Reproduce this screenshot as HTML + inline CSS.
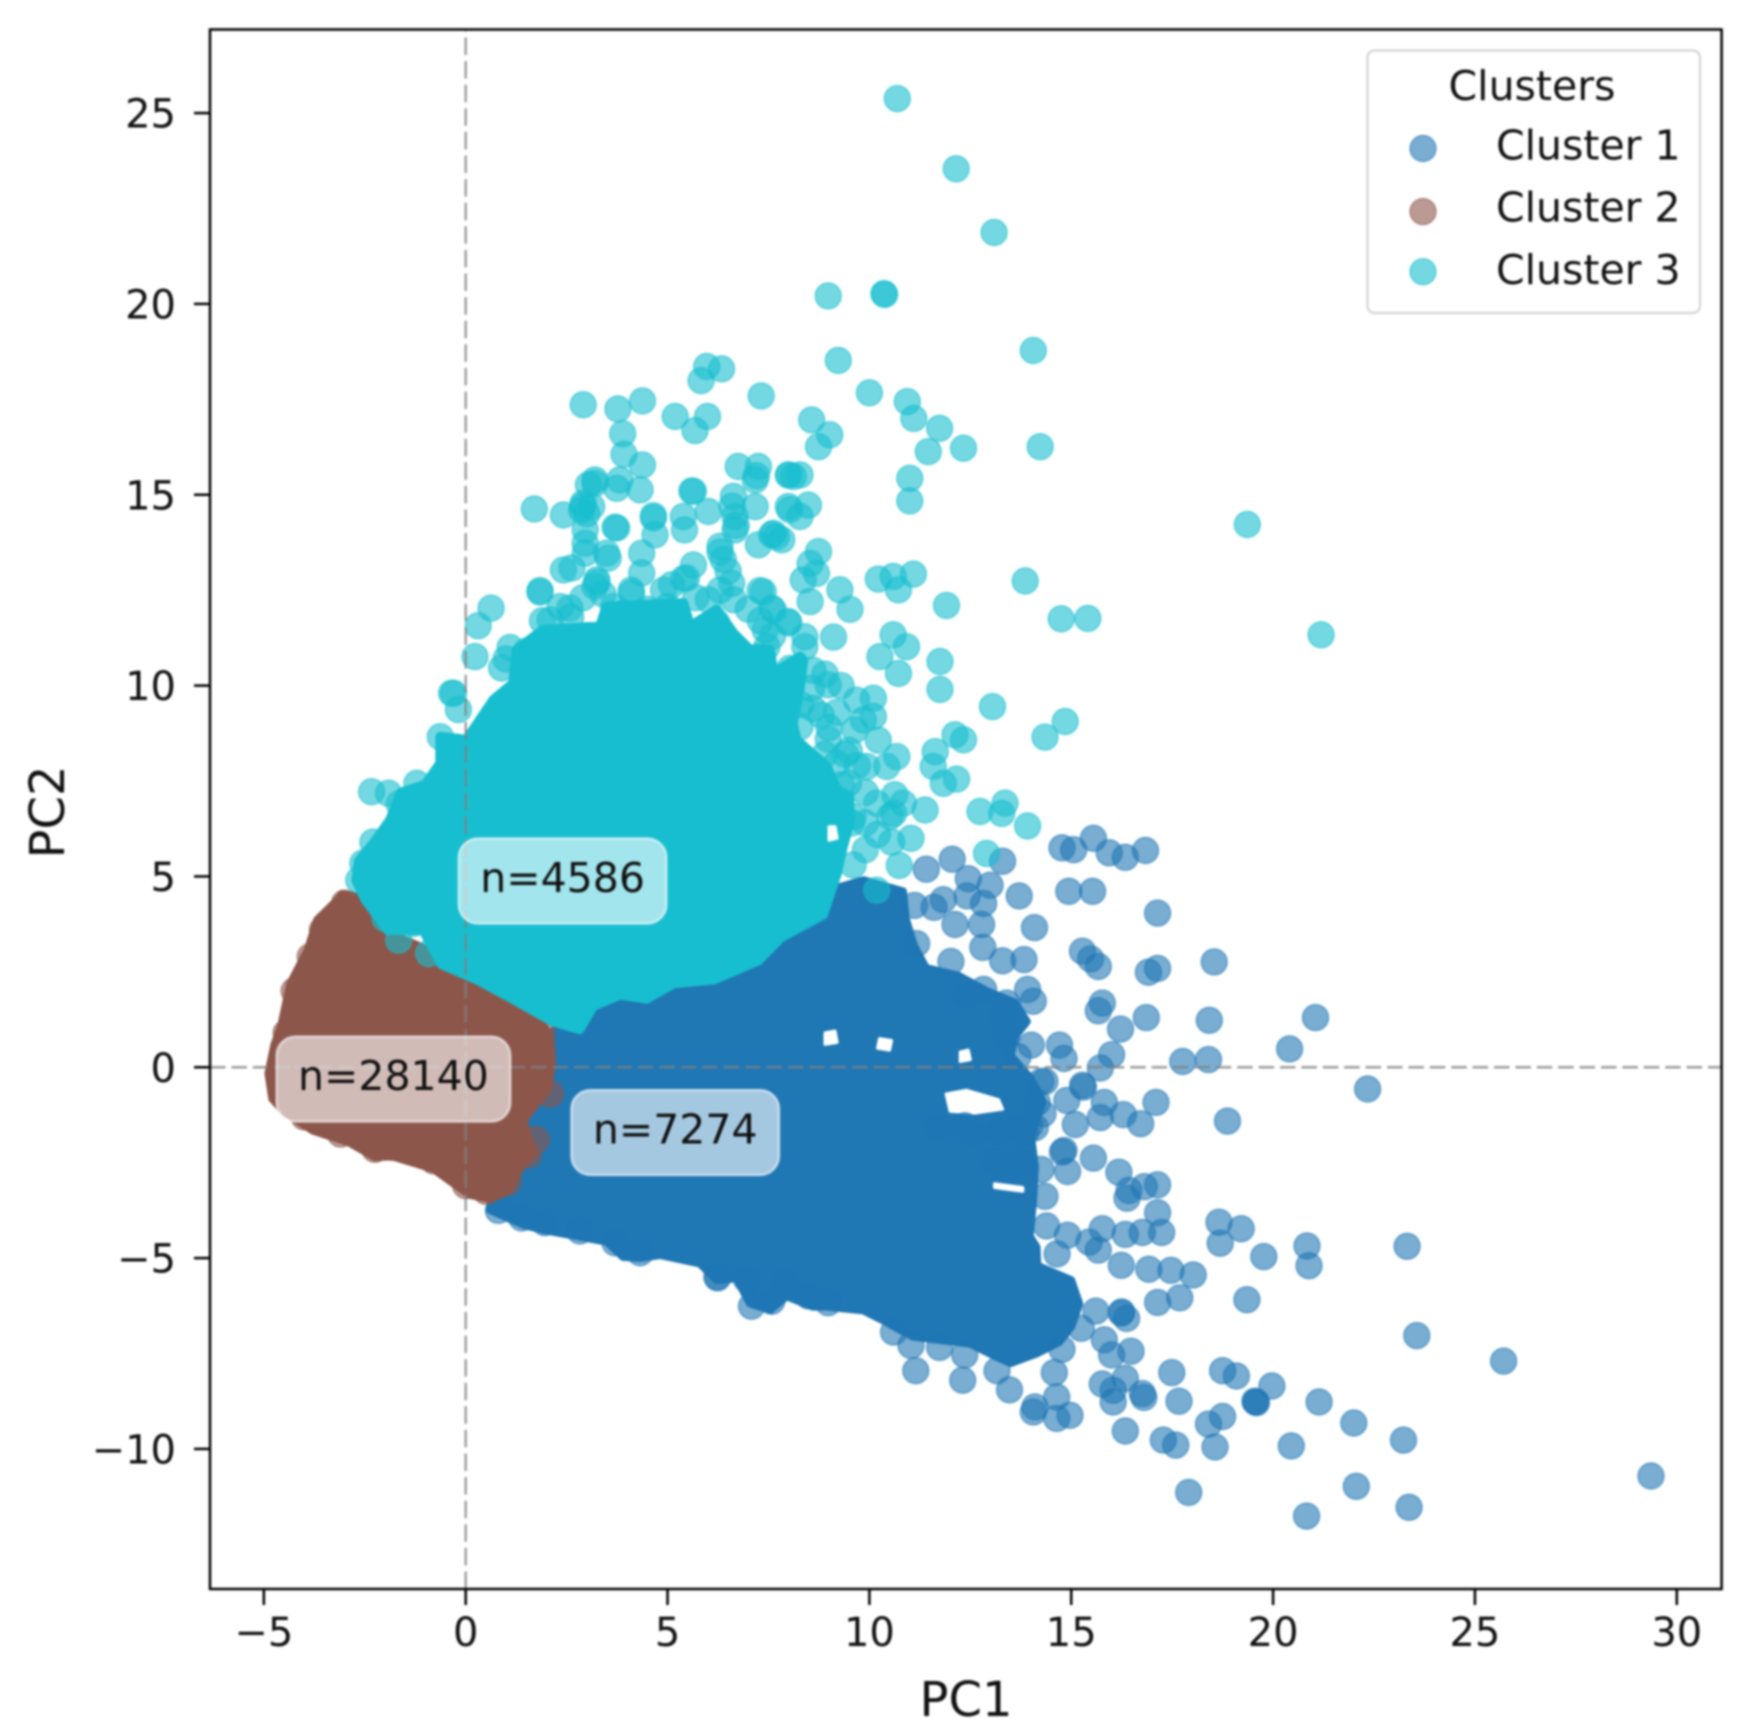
<!DOCTYPE html>
<html lang="en">
<head>
<meta charset="utf-8">
<title>PCA clusters</title>
<style>
html,body{margin:0;padding:0;background:#fff;width:1746px;height:1735px;overflow:hidden}
svg{display:block;filter:blur(1px)}
text{font-family:"DejaVu Sans","Liberation Sans",sans-serif;fill:#111}
</style>
</head>
<body>
<svg id="chart" xmlns="http://www.w3.org/2000/svg" width="1746" height="1735" viewBox="0 0 1746 1735">
  <defs><clipPath id="plot-clip"><rect x="210" y="29.5" width="1511.6" height="1559.5"/></clipPath></defs>
  <rect width="1746" height="1735" fill="#fff"/>
  <g id="marks" clip-path="url(#plot-clip)"></g>
  <g id="refs" clip-path="url(#plot-clip)"></g>
  <g id="annots"></g>
  <g id="ticks"></g>
  <rect x="210" y="29.5" width="1511.6" height="1559.5" fill="none" stroke="#000" stroke-width="2.5"/>
  <text x="966" y="1716" font-size="48" text-anchor="middle">PC1</text>
  <text x="64" y="812" font-size="48" text-anchor="middle" transform="rotate(-90 64 812)">PC2</text>
  <g>
    <rect x="1367.5" y="50.5" width="332.5" height="262.5" rx="7" fill="#fff" fill-opacity="0.8" stroke="#d4d4d4" stroke-width="2.2"/>
    <text x="1532" y="100" font-size="41" text-anchor="middle">Clusters</text>
    <g>
      <circle cx="1423" cy="148.5" r="13" fill="#1f77b4" fill-opacity="0.6" stroke="#1f77b4" stroke-opacity="0.6" stroke-width="1.4"/>
      <text x="1496" y="159.3" font-size="41">Cluster 1</text>
    </g>
    <g>
      <circle cx="1423" cy="211.6" r="13" fill="#8c564b" fill-opacity="0.6" stroke="#8c564b" stroke-opacity="0.6" stroke-width="1.4"/>
      <text x="1496" y="221.7" font-size="41">Cluster 2</text>
    </g>
    <g>
      <circle cx="1423" cy="271.7" r="13" fill="#17becf" fill-opacity="0.6" stroke="#17becf" stroke-opacity="0.6" stroke-width="1.4"/>
      <text x="1496" y="284" font-size="41">Cluster 3</text>
    </g>
  </g>
</svg>
<script>
const xTickValues = [-5, 0, 5, 10, 15, 20, 25, 30];
const xTickLabels = ["\u22125", "0", "5", "10", "15", "20", "25", "30"];
const yTickValues = [-10, -5, 0, 5, 10, 15, 20, 25];
const yTickLabels = ["\u221210", "\u22125", "0", "5", "10", "15", "20", "25"];
const annotationLabels = ["n=7274", "n=28140", "n=4586"];
const annotationX = [5.19, -1.79, 2.4];
const annotationY = [-1.71, -0.31, 4.88];

// Over-plotted regions where individual points cannot be told apart: outlines read in data units.
const cluster1Dense = [[0.6,-3.74],[1.43,-4.13],[1.96,-4.27],[2.83,-4.44],[3.49,-4.57],[3.9,-4.97],[4.32,-5.0],[4.81,-4.92],[5.8,-5.14],[6.22,-5.58],[6.71,-5.53],[7.04,-6.19],[7.54,-6.36],[7.95,-6.0],[8.6,-6.27],[8.94,-6.27],[9.85,-6.37],[10.34,-6.63],[11.08,-7.06],[12.49,-7.24],[13.15,-7.59],[13.5,-7.75],[14.14,-7.5],[14.7,-7.2],[15.0,-6.8],[15.2,-6.2],[15.0,-5.58],[14.16,-5.2],[14.14,-4.71],[13.97,-4.43],[14.06,-3.43],[14.1,-2.6],[14.0,-1.8],[14.3,-0.9],[14.0,-0.3],[13.5,0.3],[13.6,0.8],[13.9,1.2],[13.6,1.7],[12.9,2.0],[12.2,2.4],[11.4,2.6],[11.1,3.2],[10.9,3.9],[10.83,4.61],[9.86,4.9],[8.9,4.61],[7.79,4.03],[6.41,2.86],[5.58,2.28],[4.48,2.0],[3.09,1.69],[2.18,0.96],[1.0,-1.5]];
const cluster2Dense = [[-3.1,4.6],[-2.71,4.55],[-1.93,3.6],[-1.05,3.2],[0.06,2.5],[1.16,1.8],[1.94,1.2],[2.16,0.8],[2.2,0.1],[2.1,-0.6],[1.5,-1.4],[1.75,-2.3],[1.45,-2.6],[1.1,-3.3],[0.61,-3.52],[0.06,-3.4],[-0.83,-2.72],[-1.82,-2.4],[-2.27,-2.42],[-2.93,-2.02],[-3.81,-1.72],[-4.52,-1.24],[-4.85,-0.85],[-4.95,-0.16],[-4.8,0.6],[-4.63,1.1],[-4.41,2.2],[-3.97,3.1],[-3.73,3.9],[-3.2,4.45]];
const cluster3Dense = [[-2.65,5.4],[-2.28,5.87],[-1.87,6.48],[-1.6,7.2],[-1.0,7.4],[-0.63,7.96],[-0.63,8.66],[0.02,8.58],[0.69,9.63],[1.18,10.06],[1.26,10.94],[1.92,11.46],[3.33,11.55],[3.49,12.07],[5.39,12.16],[5.56,11.55],[6.22,11.99],[6.63,11.37],[7.04,10.94],[7.54,10.94],[7.62,10.33],[8.28,10.76],[8.36,10.67],[8.28,9.97],[8.1,9.0],[8.2,8.57],[8.94,7.88],[9.19,7.27],[9.5,7.1],[9.52,6.48],[9.3,5.6],[9.2,5.1],[8.85,4.0],[7.8,3.4],[7.25,2.8],[6.14,2.3],[5.15,2.2],[4.48,1.8],[3.82,1.9],[3.15,1.6],[2.82,1.0],[2.16,1.2],[1.16,1.8],[0.28,2.3],[-0.6,2.7],[-1.05,3.6],[-1.93,3.6],[-2.49,4.4],[-2.71,4.9]];

// Uncovered pockets inside the over-plotted regions: outlines read in data units.
const cluster1Holes = [
[[8.9,0.6],[9.2,0.65],[9.15,0.95],[8.9,0.9]],
[[10.2,0.5],[10.5,0.45],[10.55,0.7],[10.25,0.75]],
[[12.25,0.15],[12.5,0.2],[12.45,0.45],[12.25,0.4]],
[[11.9,-0.7],[12.4,-0.6],[13.2,-0.85],[13.3,-1.1],[12.6,-1.2],[12.0,-1.15]],
[[13.1,-3.05],[13.8,-3.15],[13.8,-3.25],[13.1,-3.15]]
];
const cluster3Holes = [
[[9.0,5.95],[9.2,6.0],[9.15,6.3],[9.0,6.3]]
];

const cluster1Points = [
[13.3,5.4],[12.05,5.45],[11.41,5.19],[12.45,4.94],[12.99,4.77],[13.71,4.49],[14.94,4.61],[15.53,4.61],[17.14,4.04],[14.09,3.66],[12.78,3.74],[12.12,3.74],[12.83,4.29],[11.83,4.39],[11.6,4.19],[11.12,4.24],[12.42,4.49],
[14.77,5.75],[15.06,5.7],[15.55,6.0],[15.94,5.62],[16.34,5.5],[16.84,5.68],
[12.81,3.14],[13.3,2.79],[13.83,2.82],[11.17,3.24],[12.02,2.77],[15.28,3.04],[15.48,2.84],[15.67,2.64],[16.91,2.49],[17.14,2.59],[18.54,2.76],
[15.77,1.68],[15.67,1.48],[16.86,1.3],[18.42,1.23],[21.05,1.3],[13.92,2.04],[14.06,1.73],[12.83,2.04],[12.4,1.88],[13.4,1.68],[16.22,1.0],[20.41,0.48],
[14.01,0.58],[14.71,0.58],[14.82,0.23],[16.0,0.33],[15.72,-0.02],[17.76,0.15],[18.4,0.2],[14.25,-0.37],[15.28,-0.47],[15.3,-0.52],[22.34,-0.57],[14.89,-0.87],[15.82,-0.92],[17.1,-0.92],[16.29,-1.24],[15.1,-1.5],[15.72,-1.32],[16.72,-1.48],[18.87,-1.41],
[14.3,-1.22],[14.11,-1.58],[14.16,-0.92],[13.87,-1.72],[13.21,-1.7],[13.59,-1.6],[13.97,-1.53],[12.55,-1.73],[12.36,-1.53],[11.69,-1.58],[13.68,0.28],[14.35,-0.37],[13.4,0.78],[13.3,1.28],
[14.82,-2.18],[14.78,-2.22],[15.55,-2.38],[14.91,-2.73],[13.11,-2.48],[13.73,-2.48],[14.25,-2.68],[13.45,-2.68],[16.18,-2.75],[17.14,-3.08],[16.43,-3.23],[16.38,-3.43],[16.81,-3.13],[17.14,-3.81],[14.35,-3.38],
[18.66,-4.06],[19.21,-4.23],[18.69,-4.61],[19.77,-4.96],[20.84,-4.68],[20.89,-5.2],[17.24,-4.33],[16.76,-4.33],[16.34,-4.38],[15.77,-4.23],[14.39,-4.16],[14.91,-4.4],[15.44,-4.58],[14.65,-4.89],[15.67,-4.79],[16.24,-5.19],[16.92,-5.29],[17.47,-5.32],[18.02,-5.44],[17.14,-6.16],[17.69,-6.04],[19.35,-6.09],[16.25,-6.41],[16.37,-6.58],[16.24,-6.44],
[15.61,-6.39],[15.25,-6.84],[14.77,-7.39],[15.82,-7.14],[16.48,-7.44],[16.0,-7.54],[11.15,-7.95],[12.31,-8.2],[12.36,-7.54],[11.03,-7.29],[10.6,-6.94],[11.74,-7.34],[14.58,-8.0],[13.16,-7.95],[13.47,-8.45],
[17.49,-8.0],[18.75,-7.95],[19.09,-8.09],[19.97,-8.35],[15.77,-8.3],[16.34,-8.15],[16.76,-8.55],[16.8,-8.65],[14.06,-9.03],[14.1,-8.9],[14.64,-8.64],[14.64,-9.2],[14.97,-9.12],[16.04,-8.46],[16.04,-8.77],[16.34,-9.53],[17.28,-9.77],[17.59,-9.9],[17.91,-11.14],[17.67,-8.75],[18.4,-9.35],[18.75,-9.15],[18.56,-9.95],
[19.57,-8.77],[19.59,-8.79],[19.55,-8.75],[21.14,-8.77],[22.0,-9.32],[20.45,-9.92],[23.23,-9.77],[22.06,-10.98],[20.83,-11.76],[23.37,-11.53],[29.36,-10.71],[23.32,-4.69],[23.56,-7.03],[25.71,-7.7],
[0.81,-3.75],[1.39,-3.95],[1.96,-4.07],[2.83,-4.29],[3.7,-4.6],[4.32,-4.86],[6.22,-5.49],[6.24,-5.52],[7.08,-6.26],[7.58,-6.13],[6.96,-5.56],[7.91,-5.64],[8.49,-5.99],[8.98,-6.17]
];
const cluster2Points = [
[-3.0,4.3],[-3.55,3.6],[-3.85,2.9],[-4.25,2.0],[-4.45,0.9],[-4.55,0.1],[-4.4,-0.8],[-4.0,-1.3],[-3.1,-1.75],[-2.25,-2.15],[-1.8,-2.1],[-0.8,-2.45],[0.0,-3.1],[0.5,-3.25],[1.55,-2.3],[1.05,-3.0],[2.1,-0.7],[1.4,-1.0],[1.75,-1.9],[1.9,1.0]
];
const cluster3Points = [
[10.69,25.38],[12.15,23.54],[13.09,21.87],[8.98,20.21],[10.36,20.27],[10.38,20.25],[14.06,18.78],[9.23,18.52],[10.0,17.67],[10.94,17.44],[11.1,17.0],[11.74,16.74],[11.46,16.13],[12.33,16.22],[14.23,16.26],[19.36,14.22],[21.19,11.33],[13.86,12.74],[14.75,11.75],[15.41,11.76],[11.91,12.1],[13.05,9.45],[14.85,9.06],[14.35,8.65],[11.0,15.43],[11.0,14.84],
[2.91,17.36],[3.77,17.25],[4.38,17.46],[5.19,17.05],[5.68,16.68],[5.99,17.05],[5.83,17.99],[5.97,18.36],[6.34,18.3],[7.32,17.59],[3.89,16.6],[3.92,16.06],[4.38,15.78],[3.2,15.39],[3.04,15.26],[3.82,15.39],[3.74,15.17],[4.32,15.13],[1.7,14.63],[2.42,14.47],[2.91,14.78],[2.87,14.6],[3.12,14.69],[3.74,14.13],[2.96,14.08],[2.96,13.73],[2.96,13.47],[3.49,13.47],[3.53,13.34],[4.65,14.45],[4.69,13.95],[5.39,14.43],[5.42,14.08],[6.01,14.56],[5.64,15.09],[6.75,15.74],[7.25,15.74],[7.17,15.39],[6.63,14.96],[7.17,14.69],[6.67,14.43],[6.67,14.08],[6.3,13.65],[6.38,13.3],[7.62,13.99],[7.83,13.82],[7.25,13.69],[8.0,15.52],[8.12,15.48],[8.03,14.61],[4.36,13.47],[4.36,12.95],[2.42,13.03],[2.63,13.08],[3.25,12.77],[3.2,12.6],[1.84,12.49],[5.64,13.16],[5.47,12.82],[5.1,12.64],[4.11,12.42],[6.59,12.68],[6.63,12.25],[7.29,12.49],[6.01,12.25],[7.58,12.03],[8.0,11.64],[7.42,11.46],[2.58,12.03],[2.34,12.07],[0.63,12.03],[0.31,11.57],[0.23,10.76],[0.89,10.46],[-0.35,9.8],[-0.18,9.37],[1.51,10.9],[2.09,11.72],[7.25,10.76],[6.22,11.64],[3.66,12.07],[5.0,12.07],[7.46,11.02],
[2.9,14.7],[3.0,14.5],[3.2,15.3],[6.6,14.7],[6.7,14.2],[7.2,15.5],[7.7,13.9],[4.65,14.4],[5.6,15.1],[3.7,14.15],[3.25,12.7],[1.84,12.45],[4.1,12.5],[5.4,12.8],[6.3,13.5],[6.5,13.0],
[2.9,12.3],[3.4,12.4],[3.9,11.9],[4.5,12.0],[4.9,12.5],[5.7,12.3],[6.3,12.5],[7.0,12.0],[7.3,11.7],[7.6,11.3],[1.9,11.7],[2.6,11.8],[1.1,11.0],[1.0,10.7],
[8.74,16.26],[9.02,16.57],[8.57,16.96],[7.99,15.52],[8.28,15.52],[7.99,14.69],[8.49,14.73],[8.28,14.43],[7.58,13.95],[8.74,13.51],[8.53,13.2],[8.69,12.94],[8.36,12.77],[8.53,12.2],[9.27,12.51],[9.52,12.0],[10.22,12.79],[10.59,12.86],[11.09,12.92],[10.72,12.51],[10.59,11.33],[10.92,11.02],[10.26,10.76],[10.72,10.32],[11.75,10.63],[11.75,9.9],[12.12,8.71],[12.33,8.58],[11.63,8.27],[11.58,7.88],[11.83,7.44],[12.16,7.55],[12.74,6.7],[13.36,6.92],[13.28,6.65],[13.92,6.32],[9.11,11.27],[8.4,11.28],[8.4,11.02],[7.99,11.68],[7.62,11.98],[7.37,12.46],[8.98,10.02],[8.57,9.93],[8.03,10.45],[8.03,9.89],[9.68,9.62],[10.1,9.67],[9.85,9.1],[9.64,8.84],[10.1,9.19],[8.8,9.23],[8.28,8.92],[8.98,8.6],[10.22,8.57],[10.68,8.14],[9.93,7.88],[10.43,7.88],[9.19,7.96],[9.48,7.44],[10.63,7.14],[10.18,6.92],[10.84,6.92],[11.38,6.74],[10.51,6.57],[9.6,6.57],
[8.6,10.4],[8.9,10.3],[9.3,10.0],[7.9,10.1],[8.3,9.5],[8.6,9.4],[9.2,9.3],[9.0,8.9],[9.5,8.3],[8.9,8.2],[9.3,7.4],[9.9,7.2],
[11.03,6.0],[10.6,6.65],[10.55,5.9],[10.74,5.29],[9.56,6.4],[10.18,4.64],[12.9,5.6],[9.9,5.7],[9.6,5.3],[10.2,6.1],[9.9,6.4],[9.7,7.9],[9.4,8.2],
[-0.3,9.8],[-0.63,8.66],[-2.33,7.22],[-1.91,7.18],[-1.21,7.44],[-1.65,6.9],[-2.55,5.35],[-2.3,5.9],[-2.65,4.9],[-1.66,3.33],[-1.29,3.77],[-0.92,2.98],[-2.0,3.9]
];

const plotLeft = 210, plotRight = 1721.6, plotTop = 29.5, plotBottom = 1589;
const xMin = -6.334, xMax = 31.11, yMin = -13.67, yMax = 27.19;
function xScale(v) { return plotLeft + (v - xMin) / (xMax - xMin) * (plotRight - plotLeft); }
function yScale(v) { return plotBottom - (v - yMin) / (yMax - yMin) * (plotBottom - plotTop); }

const NS = 'http://www.w3.org/2000/svg';
function make(tag, attrs, parent) {
  const el = document.createElementNS(NS, tag);
  for (const k in attrs) el.setAttribute(k, attrs[k]);
  parent.appendChild(el);
  return el;
}
function outlineToPoints(outline) {
  return outline.map(p => xScale(p[0]).toFixed(1) + ',' + yScale(p[1]).toFixed(1)).join(' ');
}
const marks = document.getElementById('marks');
const refs = document.getElementById('refs');
const annots = document.getElementById('annots');
const ticks = document.getElementById('ticks');

function drawCluster(id, color, outline, holes, points, edge) {
  const poly = make('polygon', {
    points: outlineToPoints(outline),
    fill: color, stroke: color, 'stroke-width': edge, 'stroke-linejoin': 'round'
  }, marks);
  
  
  holes.forEach(h => {
    const g = make('polygon', { points: outlineToPoints(h), fill: '#fff', stroke: '#fff', 'stroke-width': 3, 'stroke-linejoin': 'round' }, marks);
    
    
  });
  points.forEach(p => {
    const c = make('circle', {
      cx: xScale(p[0]).toFixed(1), cy: yScale(p[1]).toFixed(1), r: 13,
      fill: color, 'fill-opacity': 0.6, stroke: color, 'stroke-opacity': 0.6, 'stroke-width': 1.4
    }, marks);
    
    
  });
}
drawCluster(1, '#1f77b4', cluster1Dense, cluster1Holes, cluster1Points, 8);
drawCluster(2, '#8c564b', cluster2Dense, [], cluster2Points, 3);
drawCluster(3, '#17becf', cluster3Dense, cluster3Holes, cluster3Points, 10);

const hLine = make('line', {
  x1: plotLeft, x2: plotRight, y1: yScale(0), y2: yScale(0),
  stroke: '#808080', 'stroke-opacity': 0.78, 'stroke-width': 2.4, 'stroke-dasharray': '15.5 5.9'
}, refs);


const vLine = make('line', {
  x1: xScale(0), x2: xScale(0), y1: plotBottom, y2: plotTop,
  stroke: '#808080', 'stroke-opacity': 0.78, 'stroke-width': 2.4, 'stroke-dasharray': '17.5 6.1'
}, refs);



xTickValues.forEach((v, i) => {
  const t = make('line', { x1: xScale(v), x2: xScale(v), y1: plotBottom, y2: plotBottom + 16, stroke: '#000', 'stroke-width': 2.5 }, ticks);
  
  
  const l = make('text', { x: xScale(v), y: 1646, 'font-size': 40, 'text-anchor': 'middle' }, ticks);
  
  
  l.textContent = xTickLabels[i];
});
yTickValues.forEach((v, i) => {
  const t = make('line', { x1: plotLeft - 16, x2: plotLeft, y1: yScale(v), y2: yScale(v), stroke: '#000', 'stroke-width': 2.5 }, ticks);
  
  
  const l = make('text', { x: 176, y: yScale(v) + 14.5, 'font-size': 40, 'text-anchor': 'end' }, ticks);
  
  
  l.textContent = yTickLabels[i];
});

annotationLabels.forEach((label, i) => {
  const cx = xScale(annotationX[i]), cy = yScale(annotationY[i]);
  const box = make('rect', { y: cy - 42.5, height: 85, rx: 19, fill: '#fff', 'fill-opacity': 0.6, stroke: '#fff', 'stroke-opacity': 0.6, 'stroke-width': 2.4 }, annots);
  
  
  const txt = make('text', { x: cx, y: cy + 11, 'font-size': 41, 'text-anchor': 'middle' }, annots);
  
  
  txt.textContent = label;
  const w = txt.getComputedTextLength() + 43;
  box.setAttribute('x', cx - w / 2);
  box.setAttribute('width', w);
});
</script>
</body>
</html>
